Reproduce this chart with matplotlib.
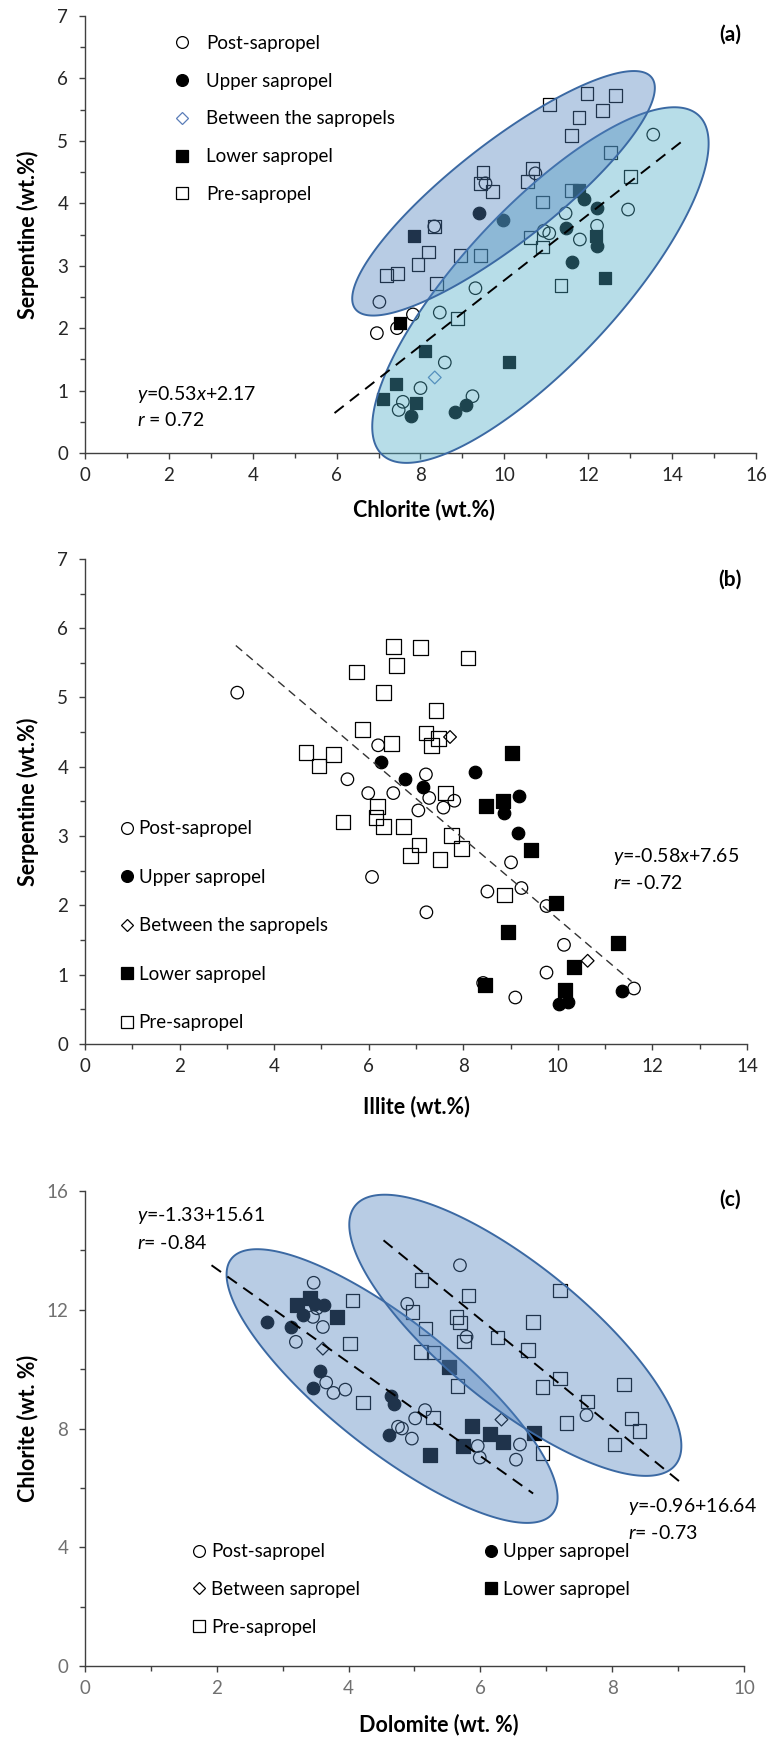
import numpy as np
import matplotlib
matplotlib.use("Agg")
import matplotlib.pyplot as plt
from matplotlib.patches import Polygon
from matplotlib.lines import Line2D
from matplotlib.ticker import MultipleLocator

plt.rcParams['font.family'] = ['Lato', 'DejaVu Sans']
plt.rcParams['mathtext.fontset'] = 'custom'
plt.rcParams['mathtext.it'] = 'Lato:italic'
plt.rcParams['mathtext.rm'] = 'Lato'

# ---------------- panel (a): chlorite vs serpentine ----------------
post_a_x = [13.55, 10.74, 9.55, 8.33, 11.46, 12.95, 12.21, 10.94, 11.07, 11.80, 9.31,
            7.02, 7.82, 8.46, 6.96, 7.44, 8.58, 8.00, 7.58, 7.48, 9.24]
post_a_y = [5.10, 4.48, 4.32, 3.63, 3.84, 3.90, 3.64, 3.56, 3.52, 3.42, 2.64,
            2.42, 2.22, 2.25, 1.92, 2.00, 1.45, 1.04, 0.82, 0.69, 0.91]
upper_a_x = [9.39, 9.97, 11.89, 12.21, 11.46, 11.61, 12.21, 7.77, 8.83, 9.09]
upper_a_y = [3.84, 3.73, 4.07, 3.92, 3.61, 3.06, 3.32, 0.60, 0.65, 0.77]
between_a_x = [8.34]
between_a_y = [1.21]
lower_a_x = [7.84, 11.77, 12.19, 12.39, 7.52, 8.11, 10.10, 7.41, 7.10, 7.89]
lower_a_y = [3.48, 4.21, 3.47, 2.80, 2.08, 1.63, 1.45, 1.11, 0.86, 0.80]
pre_a_x = [11.08, 11.97, 12.66, 11.78, 12.35, 11.59, 12.53, 13.01, 9.49, 9.43, 9.71,
           10.66, 10.56, 11.61, 10.92, 8.33, 8.19, 7.94, 7.46, 7.18, 8.39, 8.95,
           9.43, 10.62, 10.91, 11.35, 8.89]
pre_a_y = [5.58, 5.76, 5.73, 5.38, 5.48, 5.09, 4.82, 4.43, 4.50, 4.32, 4.19,
           4.56, 4.35, 4.21, 4.02, 3.63, 3.22, 3.02, 2.88, 2.84, 2.72, 3.16,
           3.16, 3.45, 3.30, 2.68, 2.16]
fit_a_x = [5.95, 14.25]
fit_a_y = [0.64, 5.00]

# ---------------- panel (b): illite vs serpentine ----------------
post_b_x = [3.22, 6.20, 5.55, 5.99, 6.52, 6.07, 7.21, 7.28, 7.81, 7.58, 7.05, 9.01,
            7.22, 8.51, 9.23, 9.76, 10.13, 9.76, 8.42, 9.10, 11.61]
post_b_y = [5.07, 4.31, 3.82, 3.62, 3.62, 2.41, 3.89, 3.55, 3.51, 3.41, 3.37, 2.62,
            1.90, 2.20, 2.25, 1.99, 1.43, 1.03, 0.88, 0.67, 0.80]
upper_b_x = [6.26, 6.77, 7.14, 8.25, 9.18, 8.86, 9.16, 10.03, 10.22, 11.36]
upper_b_y = [4.07, 3.83, 3.71, 3.92, 3.58, 3.33, 3.05, 0.58, 0.61, 0.76]
between_b_x = [7.72, 10.63]
between_b_y = [4.43, 1.20]
lower_b_x = [9.04, 8.49, 8.83, 9.44, 9.96, 8.95, 11.27, 10.34, 8.46, 10.15]
lower_b_y = [4.20, 3.43, 3.50, 2.80, 2.04, 1.62, 1.45, 1.11, 0.85, 0.78]
pre_b_x = [6.52, 7.10, 8.10, 5.74, 6.59, 6.31, 7.42, 5.87, 7.21, 6.48, 7.47, 7.33,
           4.67, 5.25, 4.95, 5.46, 6.19, 6.15, 6.31, 6.74, 7.63, 7.75, 7.06, 7.96,
           6.89, 7.51, 8.87]
pre_b_y = [5.74, 5.72, 5.57, 5.37, 5.46, 5.07, 4.81, 4.54, 4.49, 4.34, 4.41, 4.31,
           4.21, 4.18, 4.01, 3.20, 3.43, 3.27, 3.14, 3.14, 3.62, 3.01, 2.87, 2.82,
           2.72, 2.66, 2.15]
fit_b_x = [3.19, 11.56]
fit_b_y = [5.75, 0.90]

# ---------------- panel (c): dolomite vs chlorite ----------------
post_c_x = [3.47, 3.20, 3.61, 3.46, 3.52, 3.66, 3.77, 3.95, 4.75, 5.69, 4.89, 5.79,
            7.61, 5.16, 5.01, 4.81, 4.96, 5.96, 5.99, 6.60, 6.54]
post_c_y = [12.91, 10.92, 11.42, 11.76, 12.05, 9.55, 9.20, 9.31, 8.06, 13.50, 12.20, 11.09,
            8.45, 8.62, 8.34, 8.00, 7.66, 7.41, 7.02, 7.46, 6.95]
upper_c_x = [2.76, 3.12, 3.31, 3.56, 3.46, 3.49, 3.62, 4.65, 4.69, 4.62]
upper_c_y = [11.59, 11.42, 11.82, 9.94, 9.37, 12.19, 12.15, 9.09, 8.81, 7.78]
between_c_x = [3.61, 6.32]
between_c_y = [10.69, 8.30]
lower_c_x = [3.21, 3.41, 3.82, 5.53, 5.87, 6.14, 6.35, 5.73, 5.24, 6.81]
lower_c_y = [12.15, 12.38, 11.76, 10.08, 8.08, 7.81, 7.55, 7.41, 7.10, 7.86]
pre_c_x = [4.06, 4.02, 4.22, 5.11, 5.82, 7.21, 4.97, 5.64, 5.69, 5.17, 6.80, 6.26,
           5.75, 5.10, 5.29, 6.72, 7.21, 6.94, 8.18, 7.63, 8.29, 8.41, 7.31, 8.03,
           5.65, 5.28, 6.94]
pre_c_y = [12.32, 10.86, 8.87, 13.00, 12.49, 12.66, 11.93, 11.76, 11.56, 11.37, 11.59, 11.06,
           10.92, 10.58, 10.56, 10.64, 9.68, 9.40, 9.49, 8.92, 8.34, 7.92, 8.19, 7.46,
           9.43, 8.37, 7.18]
fit_c1_x = [1.92, 6.80]
fit_c1_y = [13.50, 5.81]
fit_c2_x = [4.53, 9.09]
fit_c2_y = [14.34, 6.09]

BLUE_FILL = (79 / 255, 129 / 255, 189 / 255, 0.4)
AQUA_FILL = (75 / 255, 172 / 255, 198 / 255, 0.4)
EDGE = '#3b69a3'

TICK_FS = 13.5
LEG_FS = 13.5
EQ_FS = 14
LAB_FS = 15.5
PANEL_FS = 15


def draw_ellipse(ax, center, a_px, b_px, angle, face):
    # ellipse given on screen (pixels), converted back to data coordinates
    t = np.linspace(0, 2 * np.pi, 300)
    cx, cy = ax.transData.transform(center)
    th = np.deg2rad(angle)
    ex, ey = a_px * np.cos(t), b_px * np.sin(t)
    xs = cx + ex * np.cos(th) - ey * np.sin(th)
    ys = cy + ex * np.sin(th) + ey * np.cos(th)
    pts = ax.transData.inverted().transform(np.column_stack([xs, ys]))
    ax.add_patch(Polygon(pts, closed=True, facecolor=face, edgecolor=EDGE,
                         lw=1.4, zorder=3, clip_on=False))


def style_axes(ax, xmax, xmaj, ymax, ymaj, tickcolor):
    ax.set_xlim(0, xmax)
    ax.set_ylim(0, ymax)
    ax.xaxis.set_major_locator(MultipleLocator(xmaj))
    ax.xaxis.set_minor_locator(MultipleLocator(xmaj / 2))
    ax.yaxis.set_major_locator(MultipleLocator(ymaj))
    ax.yaxis.set_minor_locator(MultipleLocator(ymaj / 2))
    for s in ['top', 'right']:
        ax.spines[s].set_visible(False)
    for s in ['left', 'bottom']:
        ax.spines[s].set_color('#404040')
        ax.spines[s].set_linewidth(1.0)
    ax.tick_params(which='major', direction='out', length=4, width=1,
                   color='#404040', labelsize=TICK_FS, labelcolor=tickcolor)
    ax.tick_params(axis='x', which='major', pad=6)
    ax.tick_params(axis='y', which='major', pad=8)
    ax.tick_params(which='minor', direction='out', length=3.5, width=1, color='#404040')


def scatter_groups(ax, groups, ms_c, ms_s, between_color='k'):
    (px, py), (ux, uy), (bx, by), (lx, ly), (rx, ry) = groups
    ax.scatter(px, py, s=ms_c ** 2, marker='o', facecolors='none', edgecolors='k', linewidths=0.9, zorder=2)
    ax.scatter(ux, uy, s=ms_c ** 2, marker='o', facecolors='k', edgecolors='k', linewidths=0.9, zorder=2)
    ax.scatter(bx, by, s=6.5 ** 2, marker='D', facecolors='none', edgecolors=between_color, linewidths=0.9, zorder=2)
    ax.scatter(lx, ly, s=ms_s ** 2, marker='s', facecolors='k', edgecolors='k', linewidths=0.9, zorder=2)
    ax.scatter(rx, ry, s=ms_s ** 2, marker='s', facecolors='none', edgecolors='k', linewidths=0.9, zorder=2)


def handle(marker, filled, color='k', ms=8.5):
    return Line2D([], [], ls='none', marker=marker, markersize=ms,
                  markerfacecolor=color if filled else 'none',
                  markeredgecolor=color, markeredgewidth=0.9)


def axis_labels(ax, xl, yl, xpos, ypos):
    ax.set_xlabel(xl, fontsize=LAB_FS, fontweight='bold')
    ax.set_ylabel(yl, fontsize=LAB_FS, fontweight='bold')
    ax.xaxis.set_label_coords(*xpos)
    ax.xaxis.label.set_va('center')
    ax.yaxis.set_label_coords(*ypos)
    ax.yaxis.label.set_va('center')


fig = plt.figure(figsize=(7.69, 17.39), dpi=100)
ax_a = fig.add_axes([0.1105, 0.7395, 0.8726, 0.2513])
ax_b = fig.add_axes([0.1105, 0.3997, 0.8609, 0.2789])
ax_c = fig.add_axes([0.1105, 0.0420, 0.8570, 0.2731])

# ---- (a)
style_axes(ax_a, 16, 2, 7, 1, '#262626')
scatter_groups(ax_a, [(post_a_x, post_a_y), (upper_a_x, upper_a_y), (between_a_x, between_a_y),
                      (lower_a_x, lower_a_y), (pre_a_x, pre_a_y)], 9.0, 9.3, between_color='#5b7db8')
draw_ellipse(ax_a, (10.86, 2.69), 232, 78, 47, AQUA_FILL)
draw_ellipse(ax_a, (9.98, 4.16), 188, 50, 38, BLUE_FILL)
ax_a.plot(fit_a_x, fit_a_y, color='k', lw=1.4, ls=(0, (6, 4)), zorder=4)
axis_labels(ax_a, 'Chlorite (wt.%)', 'Serpentine (wt.%)', (0.505, -0.130), (-0.085, 0.5))
ax_a.text(0.961, 0.957, '(a)', transform=ax_a.transAxes, fontsize=PANEL_FS, fontweight='bold',
          ha='center', va='center')
ax_a.text(0.0775, 0.133, r'$y$=0.53$x$+2.17', transform=ax_a.transAxes, fontsize=EQ_FS, va='center')
ax_a.text(0.0775, 0.0755, r'$r$ = 0.72', transform=ax_a.transAxes, fontsize=EQ_FS, va='center')
labels = ['Post-sapropel', 'Upper sapropel', 'Between the sapropels', 'Lower sapropel', 'Pre-sapropel']
hs = [handle('o', False), handle('o', True), handle('D', False, '#5b7db8', 6.5),
      handle('s', True), handle('s', False)]
ax_a.legend(hs, labels, loc='upper left', bbox_to_anchor=(0.1326, 0.957), frameon=False,
            borderpad=0, borderaxespad=0, handlelength=0.9, handletextpad=0.8,
            labelspacing=1.11, fontsize=LEG_FS)

# ---- (b)
style_axes(ax_b, 14, 2, 7, 1, '#262626')
scatter_groups(ax_b, [(post_b_x, post_b_y), (upper_b_x, upper_b_y), (between_b_x, between_b_y),
                      (lower_b_x, lower_b_y), (pre_b_x, pre_b_y)], 9.0, 10.5)
ax_b.plot(fit_b_x, fit_b_y, color='#333333', lw=1.0, ls=(0, (6, 4)), zorder=4)
axis_labels(ax_b, 'Illite (wt.%)', 'Serpentine (wt.%)', (0.5, -0.130), (-0.086, 0.5))
ax_b.text(0.974, 0.957, '(b)', transform=ax_b.transAxes, fontsize=PANEL_FS, fontweight='bold',
          ha='center', va='center')
ax_b.text(0.7976, 0.386, r'$y$=-0.58$x$+7.65', transform=ax_b.transAxes, fontsize=EQ_FS, va='center')
ax_b.text(0.7976, 0.332, r'$r$= -0.72', transform=ax_b.transAxes, fontsize=EQ_FS, va='center')
hs = [handle('o', False), handle('o', True), handle('D', False, 'k', 6.5),
      handle('s', True), handle('s', False)]
ax_b.legend(hs, labels, loc='upper left', bbox_to_anchor=(0.050, 0.461), frameon=False,
            borderpad=0, borderaxespad=0, handlelength=0.9, handletextpad=0.2,
            labelspacing=1.68, fontsize=LEG_FS)

# ---- (c)
style_axes(ax_c, 10, 2, 16, 4, '#707070')
scatter_groups(ax_c, [(post_c_x, post_c_y), (upper_c_x, upper_c_y), (between_c_x, between_c_y),
                      (lower_c_x, lower_c_y), (pre_c_x, pre_c_y)], 9.0, 9.6)
draw_ellipse(ax_c, (4.66, 9.43), 205, 64, -38.4, BLUE_FILL)
draw_ellipse(ax_c, (6.53, 11.14), 206, 70, -39, BLUE_FILL)
ax_c.plot(fit_c1_x, fit_c1_y, color='k', lw=1.4, ls=(0, (6, 4)), zorder=4)
ax_c.plot(fit_c2_x, fit_c2_y, color='k', lw=1.4, ls=(0, (6, 4)), zorder=4)
axis_labels(ax_c, 'Dolomite (wt. %)', 'Chlorite (wt. %)', (0.537, -0.124), (-0.0865, 0.5))
ax_c.text(0.979, 0.981, '(c)', transform=ax_c.transAxes, fontsize=PANEL_FS, fontweight='bold',
          ha='center', va='center')
ax_c.text(0.0789, 0.949, r'$y$=-1.33+15.61', transform=ax_c.transAxes, fontsize=EQ_FS, va='center')
ax_c.text(0.0789, 0.891, r'$r$= -0.84', transform=ax_c.transAxes, fontsize=EQ_FS, va='center')
ax_c.text(0.824, 0.335, r'$y$=-0.96+16.64', transform=ax_c.transAxes, fontsize=EQ_FS, va='center')
ax_c.text(0.824, 0.280, r'$r$= -0.73', transform=ax_c.transAxes, fontsize=EQ_FS, va='center')
leg1 = ax_c.legend([handle('o', False), handle('D', False, 'k', 6.5), handle('s', False)],
                   ['Post-sapropel', 'Between sapropel', 'Pre-sapropel'],
                   loc='upper left', bbox_to_anchor=(0.160, 0.258), frameon=False,
                   borderpad=0, borderaxespad=0, handlelength=0.9, handletextpad=0.2,
                   labelspacing=1.1, fontsize=LEG_FS)
ax_c.add_artist(leg1)
ax_c.legend([handle('o', True), handle('s', True)], ['Upper sapropel', 'Lower sapropel'],
            loc='upper left', bbox_to_anchor=(0.603, 0.258), frameon=False,
            borderpad=0, borderaxespad=0, handlelength=0.9, handletextpad=0.2,
            labelspacing=1.1, fontsize=LEG_FS)

fig.savefig('out.png', dpi=100)
